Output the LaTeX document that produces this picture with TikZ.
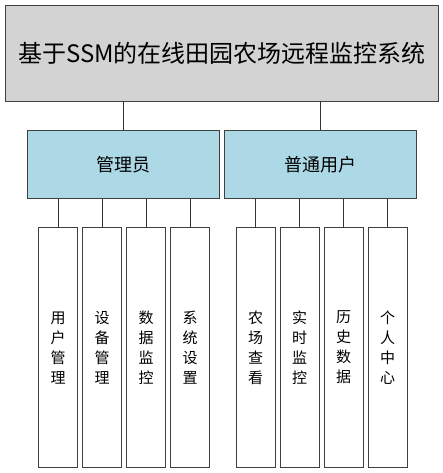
\documentclass[tikz,border=0pt]{standalone}
\usepackage{fontspec}
\setmainfont{Noto Sans CJK SC}
\begin{document}
\begin{tikzpicture}[x=1pt,y=-1pt,
  box/.style={draw=black!75,line width=1.2pt,inner sep=0pt,anchor=north west},
  topbox/.style={box},
  midbox/.style={box},
  leafbox/.style={box,fill=white},
  conn/.style={draw=black!80,line width=1pt}]
\useasboundingbox (0,0) rectangle (443,473);
\definecolor{lb}{HTML}{ADD8E6}
\definecolor{lg}{HTML}{D3D3D3}
\node[topbox,fill=lg,minimum width=433pt,minimum height=96pt] (top) at (5,5) {};
\node[font=\fontsize{24}{28}\selectfont] (title) at (top.center) {基于SSM的在线田园农场远程监控系统};
\node[midbox,fill=lb,minimum width=192pt,minimum height=68pt] (admin) at (27,130) {};
\node[font=\fontsize{18}{22}\selectfont] (admint) at (admin.center) {管理员};
\node[midbox,fill=lb,minimum width=192pt,minimum height=68pt] (user) at (224,130) {};
\node[font=\fontsize{18}{22}\selectfont] (usert) at (user.center) {普通用户};
\coordinate (t1) at (123,101);
\coordinate (t2) at (320,101);
\draw[conn] (t1) -- (t1 |- admin.north);
\draw[conn] (t2) -- (t2 |- user.north);
\foreach \i/\x/\t in {a1/38/{用\\户\\管\\理},a2/82/{设\\备\\管\\理},a3/126/{数\\据\\监\\控},a4/170/{系\\统\\设\\置},
                      u1/235.5/{农\\场\\查\\看},u2/279.5/{实\\时\\监\\控},u3/323.5/{历\\史\\数\\据},u4/367.5/{个\\人\\中\\心}}{
  \node[leafbox,minimum width=39pt,minimum height=240pt] (\i) at (\x,227) {};
  \node[align=center,font=\fontsize{15}{20}\selectfont] (\i t) at (\i.center) {\t};
}
\foreach \i in {a1,a2,a3,a4}{\draw[conn] (\i.north) -- (\i.north |- admin.south);}
\foreach \i in {u1,u2,u3,u4}{\draw[conn] (\i.north) -- (\i.north |- user.south);}
\end{tikzpicture}
\end{document}
